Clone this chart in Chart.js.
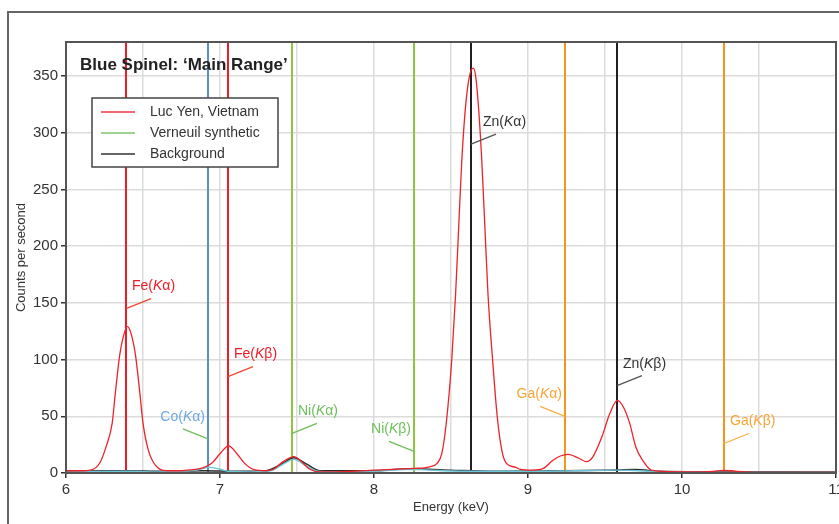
<!DOCTYPE html>
<html>
<head>
<meta charset="utf-8">
<script src="https://cdn.jsdelivr.net/npm/chart.js@4"></script>
<style>
  body { margin: 0; background: #fff; overflow: hidden; }
  #frame { position: absolute; left: 7px; top: 11px; width: 900px; height: 600px; border: 2px solid #666; }
  #wrap { position: absolute; left: 0; top: 0; width: 839px; height: 524px; }
</style>
</head>
<body>
<div id="frame"></div>
<div id="wrap"><canvas id="spectrum" width="839" height="524"></canvas></div>
<script>
// spectra (energy in keV, counts per second)
const lucYenEnergy = [6.00, 6.10, 6.16, 6.22, 6.26, 6.30, 6.32, 6.35, 6.38, 6.40, 6.42, 6.45, 6.48, 6.50, 6.535, 6.58, 6.65, 6.75, 6.82, 6.89, 6.95, 7.00, 7.056, 7.11, 7.16, 7.22, 7.30, 7.35, 7.41, 7.48, 7.53, 7.58, 7.65, 7.75, 7.85, 8.00, 8.15, 8.26, 8.36, 8.41, 8.44, 8.47, 8.505, 8.53, 8.55, 8.57, 8.59, 8.61, 8.63, 8.645, 8.66, 8.68, 8.70, 8.72, 8.74, 8.77, 8.80, 8.83, 8.86, 8.92, 8.95, 9.03, 9.10, 9.16, 9.21, 9.26, 9.33, 9.38, 9.42, 9.48, 9.53, 9.58, 9.62, 9.66, 9.70, 9.75, 9.80, 9.92, 10.10, 10.20, 10.27, 10.32, 10.40, 10.60, 11.00];
const lucYenCounts = [2, 2, 2.5, 9, 23, 44, 70, 105, 124, 129, 124, 105, 70, 44, 20, 7, 2, 2, 3, 4.5, 9, 17, 24, 17, 8.5, 3, 2, 3.5, 10, 14.5, 10, 3.5, 1, 1, 1.5, 2.5, 3.5, 4, 5.5, 8.5, 17, 45, 100, 158, 217, 275, 316, 342, 355, 357, 350, 320, 275, 217, 158, 100, 50, 20, 8.5, 5, 3.2, 2.6, 4, 11, 15, 16.4, 13, 10, 14, 32, 52, 64, 58, 44, 23, 10, 2.6, 1.2, 1, 1.5, 2.2, 2, 1, 0.5, 0.5];

const verneuilEnergy = [6.00, 6.40, 6.60, 6.80, 6.85, 6.93, 7.00, 7.05, 7.20, 7.33, 7.40, 7.48, 7.55, 7.62, 7.70, 8.00, 8.20, 8.30, 8.45, 8.70, 9.00, 9.30, 9.60, 9.80, 10.00, 11.00];
const verneuilCounts = [1, 1.5, 1, 2, 2.6, 5, 3.3, 1.5, 1, 2, 7, 12, 7, 2, 1, 1.5, 3, 3, 2, 1.5, 1.5, 2, 2.5, 1.5, 1, 0.5];

const backgroundEnergy = [6.00, 6.40, 6.60, 6.90, 7.10, 7.30, 7.40, 7.48, 7.56, 7.65, 8.00, 8.20, 8.30, 8.50, 8.80, 9.20, 9.50, 9.70, 9.85, 10.20, 11.00];
const backgroundCounts = [1.5, 2, 1.5, 2, 1.5, 2, 8, 13.5, 8, 2, 2, 3.5, 3.5, 2.5, 1.5, 2, 2.5, 3, 1.5, 1, 0.8];

// emission lines
const lineElement = ["Fe", "Co", "Fe", "Ni", "Ni", "Zn", "Ga", "Zn", "Ga"];
const lineShell = ["α", "α", "β", "α", "β", "α", "α", "β", "β"];
const lineEnergy = [6.39, 6.92, 7.05, 7.47, 8.26, 8.63, 9.24, 9.58, 10.27];
const lineLabelAt = [145, 30, 85, 35, 19, 290, 50, 77, 26]; // counts where the leader meets the line

const seriesNames = ["Luc Yen, Vietnam", "Verneuil synthetic", "Background"];

// styles
const lineColors = { Fe: "#ee1c25", Co: "#5b8dc9", Ni: "#8cc63f", Zn: "#231f20", Ga: "#f7941d" };
const textColors = { Fe: "#ee1c25", Co: "#6fa8dc", Ni: "#6dbf5a", Zn: "#333333", Ga: "#f9a435" };
const leaderColors = { Fe: "#f04a30", Co: "#6dbf5a", Ni: "#6dbf5a", Zn: "#555555", Ga: "#f9b040" };
const legendColors = ["#ee3a40", "#7dc36b", "#333333"];
const FONT = '"Liberation Sans", Arial, sans-serif';

function pts(xs, ys) {
  return xs.map((e, i) => ({ x: e, y: ys[i] }));
}

function isWhole(v) {
  return Math.abs(v - Math.round(v)) < 1e-6;
}

// vertical emission lines behind the curves
const refLines = {
  id: "refLines",
  beforeDatasetsDraw(chart) {
    const { ctx, chartArea: a, scales: { x } } = chart;
    ctx.save();
    ctx.lineWidth = 2;
    lineEnergy.forEach((e, i) => {
      const px = Math.round(x.getPixelForValue(e));
      ctx.strokeStyle = lineColors[lineElement[i]];
      ctx.beginPath();
      ctx.moveTo(px, a.top);
      ctx.lineTo(px, a.bottom);
      ctx.stroke();
    });
    ctx.restore();
  }
};

// element labels with leader lines, title, legend, frame
const decorations = {
  id: "decorations",
  afterDraw(chart) {
    const { ctx, chartArea: a, scales: { x, y } } = chart;
    ctx.save();

    // plot frame
    ctx.strokeStyle = "#555";
    ctx.lineWidth = 2;
    ctx.strokeRect(a.left, a.top, a.right - a.left, a.bottom - a.top);

    // labels
    lineEnergy.forEach((e, i) => {
      const el = lineElement[i];
      const px = Math.round(x.getPixelForValue(e));
      const py = y.getPixelForValue(lineLabelAt[i]);
      const left = (el === "Co" || (el === "Ni" && lineShell[i] === "β") || (el === "Ga" && lineShell[i] === "α"));
      const dir = left ? -1 : 1;
      const ex = px + dir * 25, ey = py - 10;
      ctx.strokeStyle = leaderColors[el];
      ctx.lineWidth = 1.3;
      ctx.beginPath();
      ctx.moveTo(px, py);
      ctx.lineTo(ex, ey);
      ctx.stroke();

      const parts = [[el + "(", false], ["K", true], [lineShell[i] + ")", false]];
      const widths = parts.map(p => {
        ctx.font = (p[1] ? "italic " : "") + "14px " + FONT;
        return ctx.measureText(p[0]).width;
      });
      const total = widths.reduce((s, w) => s + w, 0);
      let tx = left ? px - 3 - total : px + (el === "Zn" && lineShell[i] === "α" ? 12 : 6);
      const ty = ey - 12;
      ctx.fillStyle = textColors[el];
      ctx.textBaseline = "middle";
      ctx.textAlign = "left";
      parts.forEach((p, k) => {
        ctx.font = (p[1] ? "italic " : "") + "14px " + FONT;
        ctx.fillText(p[0], tx, ty);
        tx += widths[k];
      });
    });

    // title
    ctx.fillStyle = "#222";
    ctx.font = 'bold 17px "Liberation Sans Narrow", "Liberation Sans", Arial, sans-serif';
    ctx.textBaseline = "middle";
    ctx.textAlign = "left";
    ctx.fillText("Blue Spinel: \u2018Main Range\u2019", a.left + 14, a.top + 23);

    // legend box
    const lx = a.left + 26, ly = a.top + 56, lw = 186, lh = 69;
    ctx.fillStyle = "#fff";
    ctx.fillRect(lx, ly, lw, lh);
    ctx.strokeStyle = "#444";
    ctx.lineWidth = 1.5;
    ctx.strokeRect(lx, ly, lw, lh);
    ctx.font = "14px " + FONT;
    seriesNames.forEach((name, i) => {
      const rowY = ly + 14 + i * 21;
      ctx.strokeStyle = legendColors[i];
      ctx.lineWidth = 1.5;
      ctx.beginPath();
      ctx.moveTo(lx + 9, rowY);
      ctx.lineTo(lx + 43, rowY);
      ctx.stroke();
      ctx.fillStyle = "#333";
      ctx.fillText(name, lx + 58, rowY);
    });
    ctx.restore();
  }
};

const chart = new Chart(document.getElementById("spectrum").getContext("2d"), {
  type: "line",
  data: {
    datasets: [
      {
        label: seriesNames[0],
        data: pts(lucYenEnergy, lucYenCounts),
        borderColor: "#ee2228",
        borderWidth: 1.3
      },
      {
        label: seriesNames[1],
        data: pts(verneuilEnergy, verneuilCounts),
        borderColor: "#6cc4d8",
        borderWidth: 1.4
      },
      {
        label: seriesNames[2],
        data: pts(backgroundEnergy, backgroundCounts),
        borderColor: "#2b2b2b",
        borderWidth: 1.5
      }
    ]
  },
  options: {
    responsive: false,
    animation: false,
    elements: { point: { radius: 0 }, line: { cubicInterpolationMode: "monotone" } },
    layout: { padding: { top: 42, right: 3, left: 0, bottom: 0 } },
    plugins: {
      legend: { display: false },
      tooltip: { enabled: false }
    },
    scales: {
      x: {
        type: "linear",
        min: 6,
        max: 11,
        afterFit(scale) {
          scale.height = 51;
          scale.paddingLeft = 0;
          scale.paddingRight = 0;
        },
        border: { display: true, color: "#555", width: 2 },
        grid: {
          color: "#dcdcdc",
          lineWidth: 1.5,
          tickLength: 5,
          tickColor: c => (c.tick && isWhole(c.tick.value) ? "#333" : "rgba(0,0,0,0)")
        },
        ticks: {
          stepSize: 0.5,
          autoSkip: false,
          maxRotation: 0,
          padding: 3,
          color: "#333",
          font: { family: FONT, size: 15 },
          callback: v => (isWhole(v) ? String(Math.round(v)) : "")
        },
        title: {
          display: true,
          text: "Energy (keV)",
          color: "#333",
          font: { family: FONT, size: 13 },
          padding: { top: 0, bottom: 9 }
        }
      },
      y: {
        min: 0,
        max: 380,
        afterFit(scale) {
          scale.width = 66;
          scale.paddingTop = 0;
          scale.paddingBottom = 0;
        },
        border: { display: true, color: "#555", width: 2 },
        grid: { color: "#dcdcdc", lineWidth: 1.5, tickLength: 5, tickColor: "#333" },
        ticks: {
          stepSize: 50,
          includeBounds: false,
          padding: 3,
          color: "#333",
          font: { family: FONT, size: 15 }
        },
        title: {
          display: true,
          text: "Counts per second",
          color: "#333",
          font: { family: FONT, size: 13 },
          padding: { top: 14, bottom: 0 }
        }
      }
    }
  },
  plugins: [refLines, decorations]
});
</script>
</body>
</html>
